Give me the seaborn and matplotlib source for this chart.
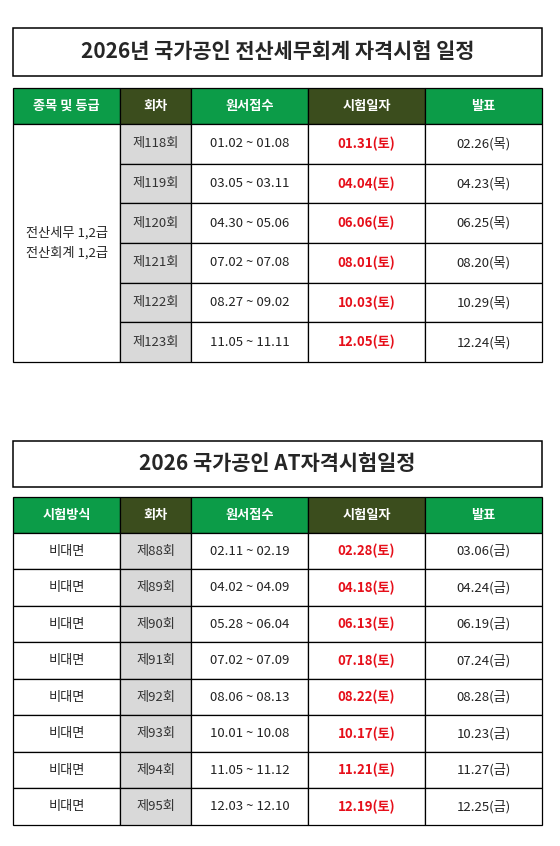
import matplotlib
matplotlib.use("Agg")
import matplotlib.pyplot as plt
import seaborn as sns
from matplotlib.patches import Rectangle

sns.set_theme(style="white")
plt.rcParams['font.family'] = ['Noto Sans CJK KR', 'DejaVu Sans']

title1 = "2026년 국가공인 전산세무회계 자격시험 일정"
headers1 = ["종목 및 등급", "회차", "원서접수", "시험일자", "발표"]
category1 = "전산세무 1,2급\n전산회계 1,2급"
rounds1 = ["제118회", "제119회", "제120회", "제121회", "제122회", "제123회"]
apply1 = ["01.02 ~ 01.08", "03.05 ~ 03.11", "04.30 ~ 05.06", "07.02 ~ 07.08", "08.27 ~ 09.02", "11.05 ~ 11.11"]
exam1 = ["01.31(토)", "04.04(토)", "06.06(토)", "08.01(토)", "10.03(토)", "12.05(토)"]
result1 = ["02.26(목)", "04.23(목)", "06.25(목)", "08.20(목)", "10.29(목)", "12.24(목)"]

title2 = "2026 국가공인 AT자격시험일정"
headers2 = ["시험방식", "회차", "원서접수", "시험일자", "발표"]
method2 = ["비대면"] * 8
rounds2 = ["제88회", "제89회", "제90회", "제91회", "제92회", "제93회", "제94회", "제95회"]
apply2 = ["02.11 ~ 02.19", "04.02 ~ 04.09", "05.28 ~ 06.04", "07.02 ~ 07.09", "08.06 ~ 08.13", "10.01 ~ 10.08", "11.05 ~ 11.12", "12.03 ~ 12.10"]
exam2 = ["02.28(토)", "04.18(토)", "06.13(토)", "07.18(토)", "08.22(토)", "10.17(토)", "11.21(토)", "12.19(토)"]
result2 = ["03.06(금)", "04.24(금)", "06.19(금)", "07.24(금)", "08.28(금)", "10.23(금)", "11.27(금)", "12.25(금)"]

GREEN = "#0c9c48"
OLIVE = "#3b4d1d"
GRAY = "#d9d9d9"
RED = "#e60f1a"
W, H = 560, 846
cols = [13, 120, 191, 308, 425, 542]

fig = plt.figure(figsize=(W/100, H/100), dpi=100)
ax = fig.add_axes([0, 0, 1, 1])
ax.set_xlim(0, W); ax.set_ylim(H, 0); ax.axis("off")

def rect(x0, y0, x1, y1, fc="white", lw=0.9):
    ax.add_patch(Rectangle((x0, y0), x1-x0, y1-y0, facecolor=fc, edgecolor="black", lw=lw))

def txt(x, y, s, **kw):
    ax.text(x, y, s, ha="center", va="center", **kw)

def table(title, ty0, ty1, headers, hy0, hy1, ry0, rh, first, merged, rounds, apply, exam, result):
    rect(cols[0], ty0, cols[-1], ty1, lw=1.1)
    txt((cols[0]+cols[-1])/2, (ty0+ty1)/2, title, fontsize=15, fontweight="bold")
    hcol = [GREEN, OLIVE, GREEN, OLIVE, GREEN]
    for i, h in enumerate(headers):
        rect(cols[i], hy0, cols[i+1], hy1, fc=hcol[i])
        txt((cols[i]+cols[i+1])/2, (hy0+hy1)/2, h, fontsize=9.5, color="white", fontweight="bold")
    n = len(rounds)
    if merged:
        rect(cols[0], ry0, cols[1], ry0 + n*rh)
        txt((cols[0]+cols[1])/2, ry0 + n*rh/2, first, fontsize=9.5, linespacing=1.6)
    for r in range(n):
        y0 = ry0 + r*rh; y1 = y0 + rh; yc = (y0+y1)/2
        if not merged:
            rect(cols[0], y0, cols[1], y1)
            txt((cols[0]+cols[1])/2, yc, first[r], fontsize=9.5)
        rect(cols[1], y0, cols[2], y1, fc=GRAY)
        txt((cols[1]+cols[2])/2, yc, rounds[r], fontsize=9.5, color="#333333")
        rect(cols[2], y0, cols[3], y1)
        txt((cols[2]+cols[3])/2, yc, apply[r], fontsize=9.5, color="#222222")
        rect(cols[3], y0, cols[4], y1)
        txt((cols[3]+cols[4])/2, yc, exam[r], fontsize=9.5, color=RED, fontweight="bold")
        rect(cols[4], y0, cols[5], y1)
        txt((cols[4]+cols[5])/2, yc, result[r], fontsize=9.5, color="#222222")

table(title1, 28, 76, headers1, 88, 124, 124, 39.7, category1, True, rounds1, apply1, exam1, result1)
table(title2, 441, 487, headers2, 497, 533, 533, 36.5, method2, False, rounds2, apply2, exam2, result2)

fig.savefig("out.png", dpi=100, facecolor="white")
